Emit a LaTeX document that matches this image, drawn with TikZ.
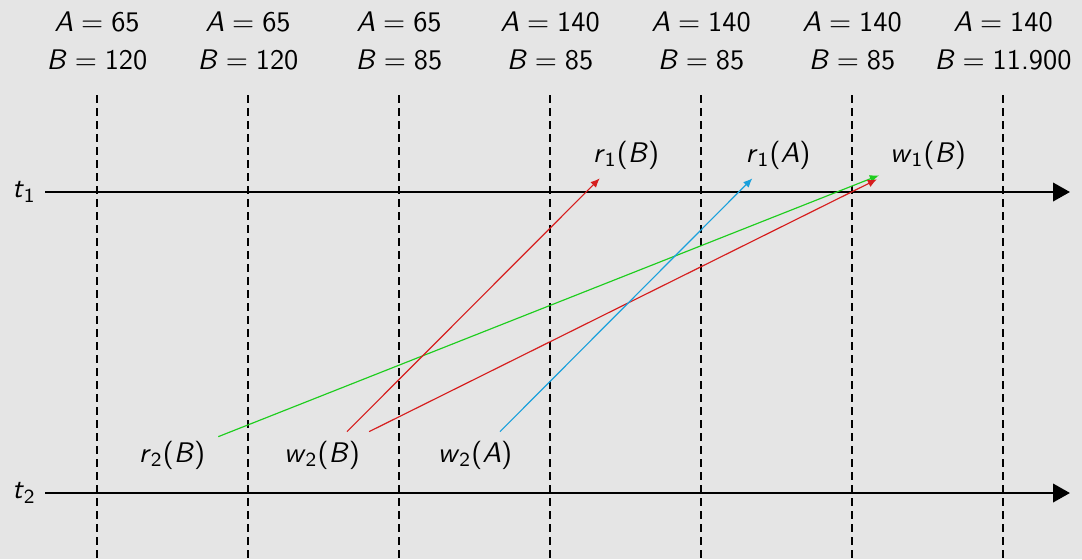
\documentclass[tikz,border=0pt]{standalone}
\usetikzlibrary{arrows.meta,calc}
\definecolor{bgray}{RGB}{229,229,229}
\definecolor{opred}{RGB}{214,30,30}
\definecolor{opgreen}{RGB}{30,205,30}
\definecolor{opblue}{RGB}{25,160,220}
% sans italic variable, sans subscript, operation
\newcommand\sv[1]{\textsf{\itshape #1}}
\newcommand\ssub[1]{$_{\mbox{\fontsize{7.7}{8}\selectfont\sffamily #1}}$}
\newcommand\opn[3]{\sv{#1}\ssub{#2}\textsf{(\sv{#3}\/)}}
\newcommand\asg[2]{\sv{#1}${}={}$\textsf{#2}}
\tikzset{
  timeline/.style={line width=1.1pt,-{Triangle[length=6.5pt,width=7pt]}},
  stateline/.style={dash pattern=on 3pt off 2pt,line width=0.4pt},
  opedge/.style={line width=0.45pt,-{Latex[length=3.5pt,width=3pt]}}
}
\begin{document}
\begin{tikzpicture}[x=0.3846pt,y=-0.3846pt,font=\fontsize{10.9}{14.6}\selectfont]
  \fill[bgray] (0,0) rectangle (1082,559);
  \useasboundingbox (0,0) rectangle (1082,559);
  % database states between the operations
  \foreach \i/\a/\b in {0/65/120,1/65/120,2/65/85,3/140/85,4/140/85,5/140/85,6/140/11.900} {
    \node[align=center] (s\i) at (97+151*\i,41) {\asg{A}{\a}\\\asg{B}{\b}};
    \draw[stateline] ($(s\i)+(0,54)$) -- (97+151*\i,559);
  }
  % transactions
  \coordinate (t1s) at (45,192);
  \coordinate (t1e) at (1070,192);
  \coordinate (t2s) at (45,493);
  \coordinate (t2e) at (1070,493);
  \draw[timeline] (t1s) -- (t1e);
  \draw[timeline] (t2s) -- (t2e);
  \node[left] at (t1s) {\sv{t}\ssub{1}};
  \node[left] at (t2s) {\sv{t}\ssub{2}};
  % operations
  \node (r1b) at (626,155) {\opn{r}{1}{B}};
  \node (r1a) at (778,155) {\opn{r}{1}{A}};
  \node (w1b) at (928,155) {\opn{w}{1}{B}};
  \node (r2b) at (172,455) {\opn{r}{2}{B}};
  \node (w2b) at (322,455) {\opn{w}{2}{B}};
  \node (w2a) at (475,455) {\opn{w}{2}{A}};
  % conflicts
  \draw[opedge,opgreen] ($(r2b.north east)+(4,5)$) -- ($(w1b.south west)+(-2,-3)$);
  \draw[opedge,opred] ($(w2b.north)+(25,0)$) -- ($(r1b.south west)+(16,0)$);
  \draw[opedge,opred] (w2b.north east) -- ($(w1b.south west)+(-4,1)$);
  \draw[opedge,opblue] ($(w2a.north)+(25,0)$) -- ($(r1a.south west)+(16,0)$);
\end{tikzpicture}
\end{document}
